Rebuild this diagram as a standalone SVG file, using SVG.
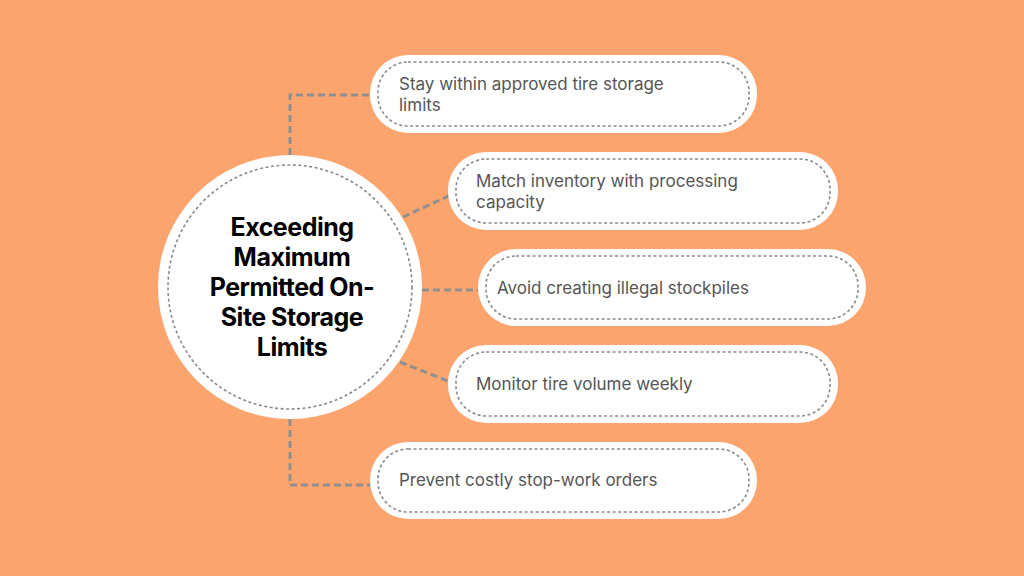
<svg xmlns="http://www.w3.org/2000/svg" width="1024" height="576" viewBox="0 0 1024 576">
<style>
.bg{fill:#FCA46D}
.box{fill:#fff}
.dash{fill:none;stroke:#8a8a8a;stroke-width:1.6;stroke-dasharray:3 2.5}
.con{fill:none;stroke:#8f8f8f;stroke-width:3;stroke-dasharray:7 4}
.t{font-family:Inter,"Open Sans",sans-serif;font-size:17px;fill:#555}
.h{font-family:Inter,"Open Sans",sans-serif;font-size:25px;font-weight:700;fill:#000;text-anchor:middle;letter-spacing:-0.5px}
</style>
<rect class="bg" width="1024" height="576"/>
<g id="connectors">
<path class="con" d="M290 155V95H378"/>
<path class="con" d="M403 217L455 193"/>
<path class="con" d="M422 290H485"/>
<path class="con" d="M400 362L453 383"/>
<path class="con" d="M290 419V485H378"/>
</g>
<g id="center">
<circle cx="290" cy="287" r="132" class="box"/>
<circle cx="290" cy="287" r="122" class="dash"/>
<text class="h"><tspan x="292" y="236">Exceeding</tspan><tspan x="292" y="266">Maximum</tspan><tspan x="292" y="296">Permitted On-</tspan><tspan x="292" y="326">Site Storage</tspan><tspan x="292" y="356">Limits</tspan></text>
</g>
<g id="n1"><rect x="370" y="55" width="387" height="78" rx="38" class="box"/><rect x="378" y="62" width="371" height="64" rx="30" class="dash"/><text class="t"><tspan x="399" y="90">Stay within approved tire storage</tspan><tspan x="399" y="111">limits</tspan></text></g>
<g id="n2"><rect x="448" y="152" width="390" height="78" rx="38" class="box"/><rect x="456" y="159" width="374" height="64" rx="30" class="dash"/><text class="t"><tspan x="476" y="187">Match inventory with processing</tspan><tspan x="476" y="208">capacity</tspan></text></g>
<g id="n3"><rect x="478" y="249" width="388" height="77" rx="38" class="box"/><rect x="486" y="256" width="372" height="63" rx="30" class="dash"/><text class="t" x="497" y="294">Avoid creating illegal stockpiles</text></g>
<g id="n4"><rect x="448" y="345" width="390" height="78" rx="38" class="box"/><rect x="456" y="352" width="374" height="64" rx="30" class="dash"/><text class="t" x="476" y="390">Monitor tire volume weekly</text></g>
<g id="n5"><rect x="370" y="442" width="387" height="77" rx="38" class="box"/><rect x="378" y="449" width="371" height="63" rx="30" class="dash"/><text class="t" x="399" y="486">Prevent costly stop-work orders</text></g>
</svg>
